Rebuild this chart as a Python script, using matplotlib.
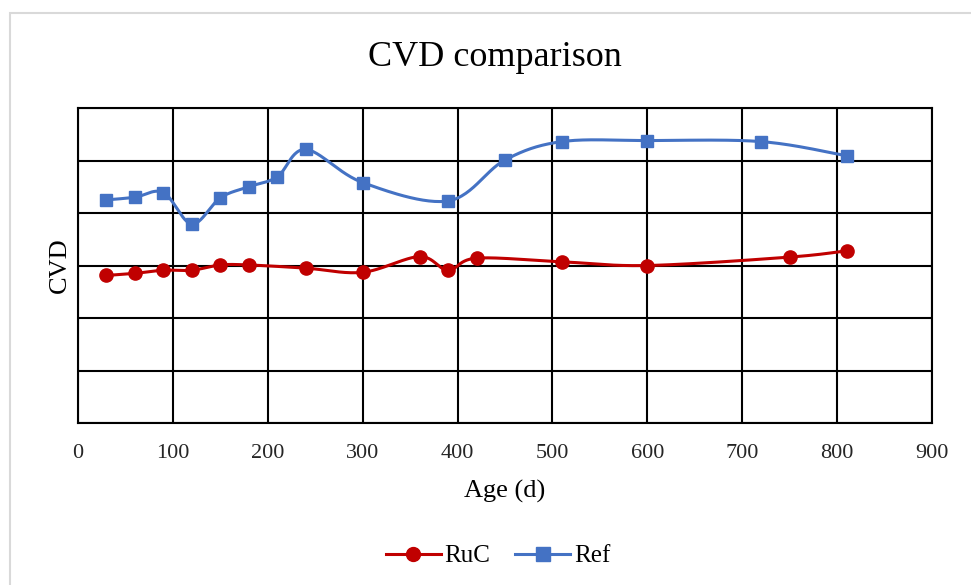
import numpy as np
import matplotlib.pyplot as plt
from matplotlib.lines import Line2D
from matplotlib.patches import Rectangle

plt.rcParams["font.family"] = ["Liberation Serif", "DejaVu Serif"]

# data (y has no scale shown; gridlines at 0..6)
ruc_age = [30, 60, 90, 120, 150, 180, 240, 300, 360, 390, 420, 510, 600, 750, 810]
ruc_cvd = [2.81, 2.85, 2.91, 2.91, 3.01, 3.01, 2.95, 2.87, 3.17, 2.91, 3.14, 3.07, 3.00, 3.16, 3.28]

ref_age = [30, 60, 90, 120, 150, 180, 210, 240, 300, 390, 450, 510, 600, 720, 810]
ref_cvd = [4.25, 4.30, 4.39, 3.79, 4.29, 4.50, 4.69, 5.21, 4.58, 4.23, 5.01, 5.36, 5.38, 5.36, 5.09]

ruc_color = "#C00000"
ref_color = "#4472C4"


def smooth(x, y, sx, sy, n=30):
    """excel-like smoothed line: parametric catmull-rom in screen-ish space."""
    p = np.column_stack([np.asarray(x, float) * sx, np.asarray(y, float) * sy])
    p = np.vstack([p[0], p, p[-1]])
    out = []
    t = np.linspace(0, 1, n)[:, None]
    for i in range(1, len(p) - 2):
        p0, p1, p2, p3 = p[i - 1], p[i], p[i + 1], p[i + 2]
        c1 = p1 + (p2 - p0) / 6
        c2 = p2 - (p3 - p1) / 6
        seg = ((1 - t) ** 3) * p1 + 3 * ((1 - t) ** 2) * t * c1 + 3 * (1 - t) * t ** 2 * c2 + t ** 3 * p2
        out.append(seg if i == 1 else seg[1:])
    out = np.vstack(out)
    return out[:, 0] / sx, out[:, 1] / sy


fig = plt.figure(figsize=(9.71, 5.85), dpi=100)
ax = fig.add_axes([78 / 971, 1 - 423 / 585, 854 / 971, 315 / 585])

# light grey chart-area frame (cropped at right and bottom)
fig.patches.append(Rectangle((10 / 971, -0.1), 1.2, 1 - 13 / 585 + 0.1,
                             transform=fig.transFigure, fill=False,
                             edgecolor="#D9D9D9", linewidth=1.5))

sx, sy = 0.949, 52.5
xs, ys = smooth(ruc_age, ruc_cvd, sx, sy)
ax.plot(xs, ys, color=ruc_color, lw=2.2, zorder=3)
ax.plot(ruc_age, ruc_cvd, "o", color=ruc_color, ms=9.5, zorder=4)

xs, ys = smooth(ref_age, ref_cvd, sx, sy)
ax.plot(xs, ys, color=ref_color, lw=2.2, zorder=3)
ax.plot(ref_age, ref_cvd, "s", color=ref_color, ms=9, zorder=4)

ax.set_xlim(0, 900)
ax.set_ylim(0, 6)
ax.set_xticks(np.arange(0, 901, 100))
ax.set_yticks(np.arange(0, 7, 1))
ax.set_yticklabels([])
ax.tick_params(axis="both", length=0, labelsize=16, pad=15)
ax.tick_params(axis="x", labelcolor="#262626")
ax.grid(True, color="black", lw=1.5)
for s in ax.spines.values():
    s.set_color("black")
    s.set_linewidth(1.5)

fig.text(495 / 971, 1 - 57 / 585, "CVD comparison", fontsize=26, ha="center", va="center")
ax.set_xlabel("Age (d)", fontsize=19, labelpad=12)
ax.set_ylabel("CVD", fontsize=19)
ax.yaxis.set_label_coords(-0.008, 0.5)

handles = [
    Line2D([], [], color=ruc_color, lw=2.2, marker="o", ms=10),
    Line2D([], [], color=ref_color, lw=2.2, marker="s", ms=10),
]
fig.legend(handles, ["RuC", "Ref"], loc="center", bbox_to_anchor=(498 / 971, 1 - 556 / 585),
           ncol=2, frameon=False, fontsize=18, handlelength=2.2, columnspacing=1.0,
           handletextpad=0.15)

fig.savefig("out.png", dpi=100)
